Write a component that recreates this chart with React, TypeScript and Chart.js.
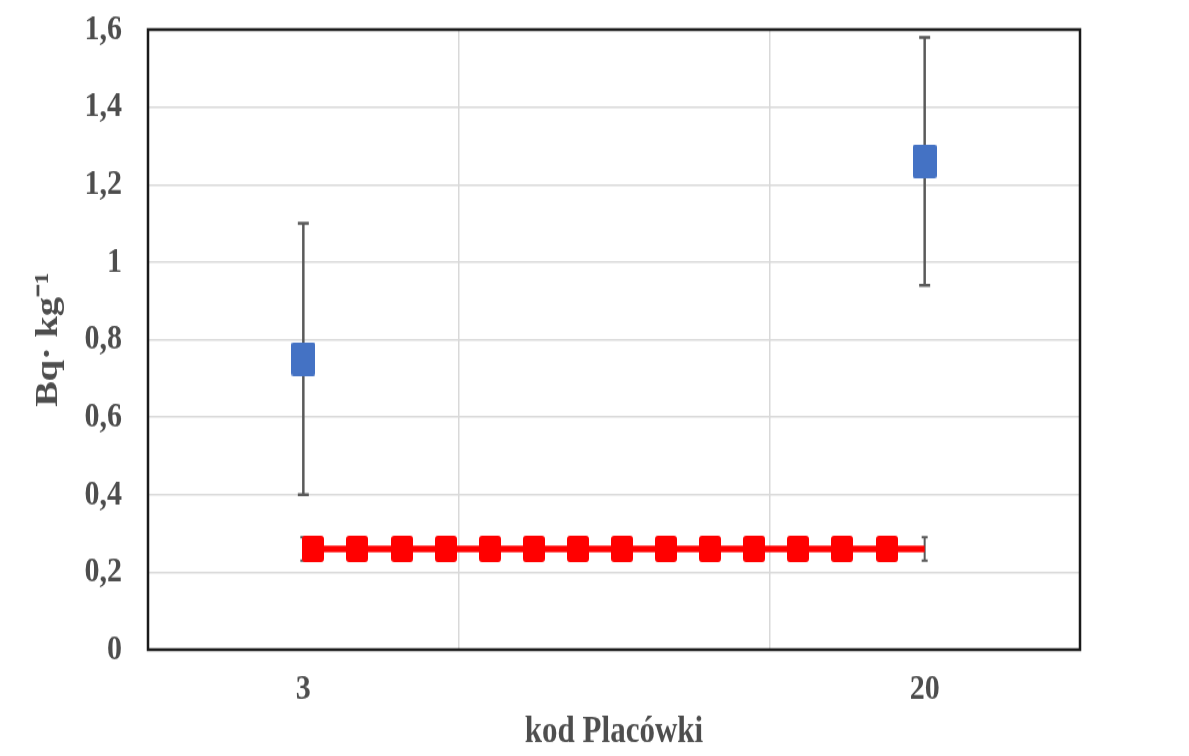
import React, { useEffect, useRef } from "react";
import { Chart, registerables } from "chart.js";

Chart.register(...registerables);

// ---- data ----
const categoryLabels = ["3", "20"];
const categoryX = [0.5, 2.5];
const meanValues = [0.75, 1.26];
const errorLow = [0.4, 0.94];
const errorHigh = [1.1, 1.58];

const limitX = [0.5, 0.531, 0.673, 0.818, 0.959, 1.101, 1.242, 1.384, 1.526, 1.667, 1.809, 1.951, 2.092, 2.234, 2.379, 2.5];
const limitValues = [0.26, 0.26, 0.26, 0.26, 0.26, 0.26, 0.26, 0.26, 0.26, 0.26, 0.26, 0.26, 0.26, 0.26, 0.26, 0.26];
const limitErrorX = [0.5, 2.5];
const limitErrorLow = [0.23, 0.23];
const limitErrorHigh = [0.29, 0.29];

const xTickValues = [0, 0.5, 1, 2, 2.5, 3];
const xGridValues = [1, 2];
const yTicks = [0, 0.2, 0.4, 0.6, 0.8, 1, 1.2, 1.4, 1.6];

const xTitle = "kod Placówki";
const yTitle = "Bq· kg⁻¹";

// ---- layout ----
const W = 1173;
const H = 740;
const INNER_H = 617;
const STRETCH = H / INNER_H;

const FONT_FAMILY = "'Liberation Serif', 'Times New Roman', serif";
const TEXT_COLOR = "#4d4d4d";
const GRID_COLOR = "#d9d9d9";

function makeMarker(w: number, h: number, color: string, r: number): HTMLCanvasElement {
  const c = document.createElement("canvas");
  c.width = w;
  c.height = h;
  const g = c.getContext("2d")!;
  g.fillStyle = color;
  g.beginPath();
  if ((g as any).roundRect) (g as any).roundRect(0, 0, w, h, r);
  else g.rect(0, 0, w, h);
  g.fill();
  return c;
}

export default function App() {
  const ref = useRef<HTMLCanvasElement>(null);

  useEffect(() => {
    const canvas = ref.current;
    if (!canvas) return;

    const blueMarker = makeMarker(24, 28, "#4472c4", 2);
    const redMarker = makeMarker(22, 22, "#ff0000", 3);

    const errorBarsPlugin = {
      id: "errorBars",
      beforeDatasetsDraw(chart: any) {
        const { ctx, chartArea, scales } = chart;
        const xs = scales.x;
        const ys = scales.y;
        ctx.save();
        // plot border
        ctx.strokeStyle = "#1a1a1a";
        ctx.lineWidth = 2.5;
        ctx.strokeRect(chartArea.left, chartArea.top, chartArea.right - chartArea.left, chartArea.bottom - chartArea.top);

        const drawBar = (xv: number, lo: number, hi: number, cap: number, lw: number) => {
          const px = xs.getPixelForValue(xv);
          const pLo = ys.getPixelForValue(lo);
          const pHi = ys.getPixelForValue(hi);
          ctx.strokeStyle = "#5a5a5a";
          ctx.lineWidth = lw;
          ctx.beginPath();
          ctx.moveTo(px, pLo);
          ctx.lineTo(px, pHi);
          ctx.moveTo(px - cap / 2, pLo);
          ctx.lineTo(px + cap / 2, pLo);
          ctx.moveTo(px - cap / 2, pHi);
          ctx.lineTo(px + cap / 2, pHi);
          ctx.stroke();
        };
        categoryX.forEach((xv, i) => drawBar(xv, errorLow[i], errorHigh[i], 11, 2.5));
        limitErrorX.forEach((xv, i) => drawBar(xv, limitErrorLow[i], limitErrorHigh[i], 6, 2));
        ctx.restore();
      },
    };

    const tickFont = { family: FONT_FAMILY, size: 30, weight: "bold" as const, lineHeight: 1.2 };

    const chart = new Chart(canvas, {
      type: "scatter",
      data: {
        datasets: [
          {
            label: "limit",
            data: limitX.map((x, i) => ({ x, y: limitValues[i] })),
            showLine: true,
            borderColor: "#ff0000",
            borderWidth: 5.5,
            backgroundColor: "#ff0000",
            pointStyle: redMarker,
            pointRadius: (c: any) => (c.dataIndex === 0 || c.dataIndex === limitX.length - 1 ? 0 : 12),
            pointBorderWidth: 0,
            pointBackgroundColor: "#ff0000",
          },
          {
            label: "mean",
            data: categoryX.map((x, i) => ({ x, y: meanValues[i] })),
            showLine: false,
            pointStyle: blueMarker,
            pointRadius: 14,
            pointBorderWidth: 0,
            backgroundColor: "#4472c4",
            pointBackgroundColor: "#4472c4",
          },
        ],
      },
      options: {
        animation: false,
        responsive: true,
        maintainAspectRatio: false,
        events: [],
        layout: { padding: { top: 18, right: 101, left: 0, bottom: 0 } },
        plugins: { legend: { display: false }, tooltip: { enabled: false } },
        scales: {
          x: {
            type: "linear",
            min: 0,
            max: 3,
            afterBuildTicks: (s: any) => {
              s.ticks = xTickValues.map((v) => ({ value: v }));
            },
            afterFit: (s: any) => {
              s.height = 82;
              s.paddingLeft = 0;
              s.paddingRight = 0;
            },
            ticks: {
              autoSkip: false,
              maxRotation: 0,
              padding: 15,
              color: TEXT_COLOR,
              font: tickFont,
              callback: (v: any) => {
                const idx = categoryX.indexOf(Number(v));
                return idx >= 0 ? categoryLabels[idx] : "";
              },
            },
            grid: {
              drawTicks: false,
              lineWidth: 1.5,
              color: (c: any) => (c.tick && xGridValues.includes(c.tick.value) ? GRID_COLOR : "rgba(0,0,0,0)"),
            },
            border: { display: false },
            title: {
              display: true,
              text: xTitle,
              color: TEXT_COLOR,
              font: { family: FONT_FAMILY, size: 31, weight: "bold", lineHeight: 1 },
              padding: { top: 0, bottom: -2 },
            },
          },
          y: {
            type: "linear",
            min: 0,
            max: 1.6,
            afterBuildTicks: (s: any) => {
              s.ticks = yTicks.map((v) => ({ value: v }));
            },
            afterFit: (s: any) => {
              s.width = 140;
              s.paddingTop = 0;
              s.paddingBottom = 0;
            },
            ticks: {
              padding: 26,
              color: TEXT_COLOR,
              font: tickFont,
              callback: (v: any) => String(Math.round(Number(v) * 10) / 10).replace(".", ","),
            },
            grid: { drawTicks: false, lineWidth: 1.5, color: GRID_COLOR },
            border: { display: false },
            title: {
              display: true,
              text: yTitle,
              color: TEXT_COLOR,
              font: { family: FONT_FAMILY, size: 32, weight: "bold", lineHeight: 1.2 },
              padding: { top: 22, bottom: 0 },
            },
          },
        },
      },
      plugins: [errorBarsPlugin],
    } as any);

    return () => chart.destroy();
  }, []);

  return (
    <div style={{ width: W, height: H, overflow: "hidden", position: "relative" }}>
      <div
        style={{
          width: W,
          height: INNER_H,
          transform: `scaleY(${STRETCH})`,
          transformOrigin: "0 0",
          position: "relative",
        }}
      >
        <canvas ref={ref} />
      </div>
    </div>
  );
}
